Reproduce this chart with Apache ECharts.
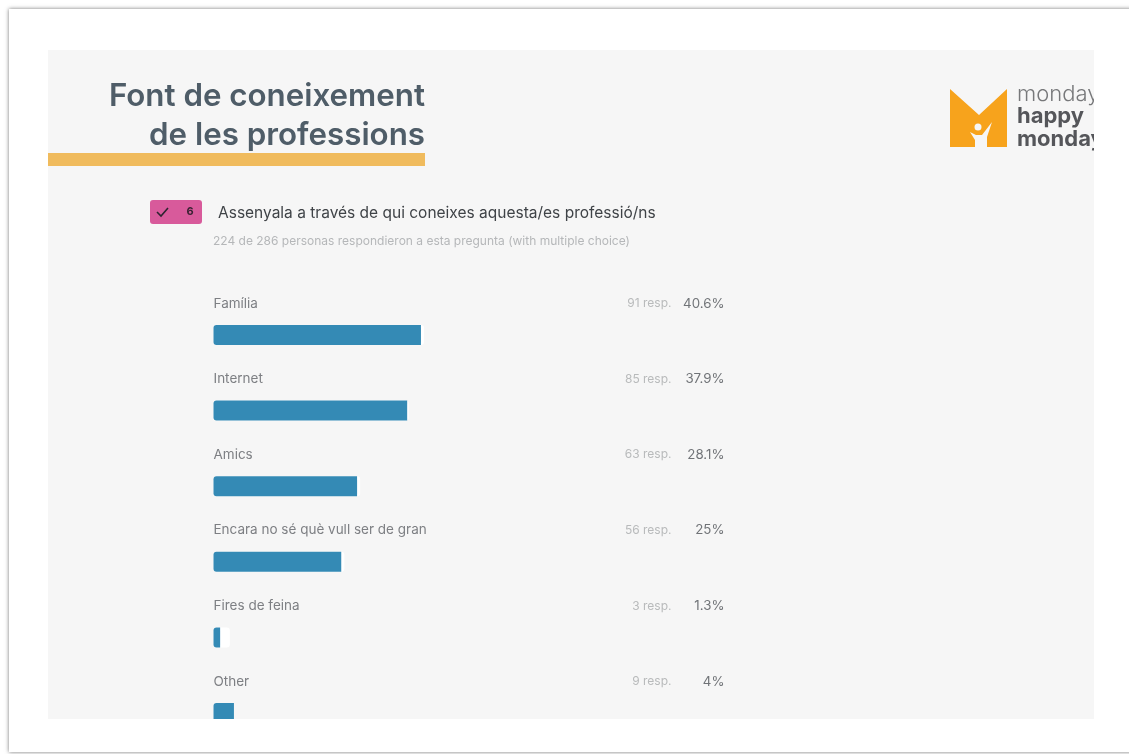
<!DOCTYPE html>
<html><head><meta charset="utf-8">
<style>html,body{margin:0;padding:0;background:#fff}#c{width:1129px;height:754px;filter:blur(0.45px)}</style>
<script src="https://cdn.jsdelivr.net/npm/echarts@6/dist/echarts.min.js"></script>
</head><body><div id="c"></div>
<script>
const categories = ["Família","Internet","Amics","Encara no sé què vull ser de gran","Fires de feina","Other"];
const percentages = [40.6,37.9,28.1,25,1.3,4];
const responses = [91,85,63,56,3,9];
const pctLabels = ["40.6%","37.9%","28.1%","25%","1.3%","4%"];
const trackEnds = [41.2,38.2,28.7,25.6,3.2,4];
const title = ["Font de coneixement","de les professions"];
const question = "Assenyala a través de qui coneixes aquesta/es professió/ns";
const subtitle = "224 de 286 personas respondieron a esta pregunta (with multiple choice)";
const font = "Inter, 'Open Sans', sans-serif";
const chart = echarts.init(document.getElementById('c'),null,{renderer:'canvas'});
const T=(x,y,text,size,color,weight,align)=>({type:'text',x,y,z:10,style:{text,fontSize:size,fill:color,fontWeight:weight||400,fontFamily:font,align:align||'left',verticalAlign:'middle'}});
const R=(x,y,w,h,fill,z,extra)=>Object.assign({type:'rect',x,y,z:z,shape:{x:0,y:0,width:w,height:h,r:(extra&&extra.r)||0},style:Object.assign({fill},(extra&&extra.style)||{})});
chart.setOption({
  animation:false,
  backgroundColor:'#ffffff',
  grid:{left:213.5,width:511,top:297.2,height:453.6,containLabel:false},
  xAxis:{type:'value',min:0,max:100,show:false},
  yAxis:{type:'category',inverse:true,data:categories,
    axisLine:{show:false},axisTick:{show:false},splitLine:{show:false},axisLabel:{show:false}},
  series:[
    {type:'bar',data:trackEnds,barWidth:20,barGap:'-100%',z:3,silent:true,itemStyle:{color:'#ffffff',borderRadius:3}},
    {type:'bar',data:percentages,barWidth:20,z:4,silent:true,itemStyle:{color:'#348ab5',borderRadius:[3,0,0,3]}},
    {type:'scatter',symbolSize:0,z:6,silent:true,data:categories.map(c=>[0,c,c]),
      label:{show:true,position:'right',distance:0,offset:[0,-31.5],formatter:p=>p.value[2],color:'#5f6266',fontSize:13.5,fontFamily:font}},
    {type:'scatter',symbolSize:0,z:6,silent:true,data:categories.map((c,i)=>[100,c,pctLabels[i]]),
      label:{show:true,position:'left',distance:0,offset:[0,-31.5],formatter:p=>p.value[2],color:'#4f5358',fontSize:13.3,fontFamily:font}},
    {type:'scatter',symbolSize:0,z:6,silent:true,data:categories.map((c,i)=>[100,c,responses[i]+' resp.']),
      label:{show:true,position:'left',distance:0,offset:[-53,-31.5],formatter:p=>p.value[2],color:'#a9abad',fontSize:12,fontFamily:font}}
  ],
  graphic:[
    R(0,0,1129,754,'#ffffff',-30),
    R(9,9,1140,743,'#ffffff',-20,{style:{shadowBlur:4,shadowColor:'rgba(0,0,0,0.55)'}}),
    R(48,50,1046,669,'#f6f6f6',-10),
    T(425,97,title[0],31.3,'#4f5d68',600,'right'),
    T(425,136,title[1],31.3,'#4f5d68',600,'right'),
    R(48,153,377,13,'#f0bb5d',5),
    R(150,200,52,24,'#d85a9b',5,{r:3}),
    {type:'polyline',z:10,shape:{points:[[157,212],[161,216],[168,208]]},style:{stroke:'#2d2430',lineWidth:1.6,fill:'none'}},
    T(190,212,'6',11,'#3a2233',700,'center'),
    T(218,213,question,15.5,'#3f4347',400),
    T(213,241,subtitle,12,'#b5b7b9',400),
    {type:'polygon',z:10,shape:{points:[[950,89],[979,115],[1007,89],[1007,147],[950,147]]},style:{fill:'#f7a31c'}},
    {type:'polygon',z:11,shape:{points:[[970,132],[976,135],[982,135],[992,122],[987,137],[987,147],[975,147],[975,140]]},style:{fill:'#f6f6f6'}},
    {type:'circle',z:11,shape:{cx:978,cy:127,r:3.5},style:{fill:'#f6f6f6'}},
    T(1017,94,'monday',22,'#77787a',300),
    T(1017,116,'happy',22,'#55565a',700),
    T(1017,139,'monday',22,'#55565a',700),
    R(1094,50,35,669,'#ffffff',20),
    R(48,719,1060,30,'#ffffff',20)
  ]
});
</script></body></html>
